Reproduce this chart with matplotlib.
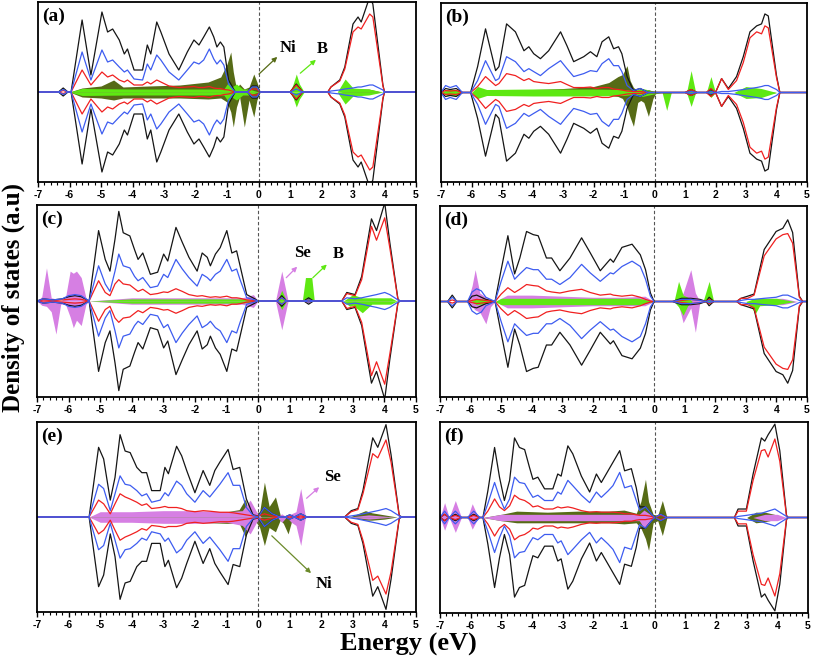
import matplotlib.pyplot as plt
import numpy as np
from matplotlib.ticker import AutoMinorLocator

# ---- panel (a) : total (black), blue, red spin-up lines (spin-down is mirrored)
a_E = [-7.0, -6.35, -6.2, -6.05, -5.95, -5.6, -5.32, -4.97, -4.79, -4.63, -4.42, -4.26, -4.16, -3.95, -3.68,
       -3.53, -3.42, -3.23, -3.1, -2.84, -2.53, -2.26, -2.05, -1.89, -1.74, -1.56, -1.42, -1.32, -1.21, -1.1,
       -0.95, -0.74, -0.35, -0.2, -0.05, 0.05, 1.0, 1.2, 1.4, 2.2, 2.3, 2.58, 2.74, 3.0, 3.16, 3.26, 3.53,
       3.63, 3.95, 4.0, 5.0]
a_tot = [0, 0, 0.4, 0, 0, 7.2, 1.7, 8.0, 6.0, 6.3, 5.2, 3.8, 4.3, 2.2, 2.2, 4.7, 3.8, 7.0, 6.0, 3.8, 2.2,
         4.0, 5.2, 4.7, 5.5, 6.5, 5.5, 4.5, 5.0, 4.5, 1.2, 0, 0, 0.6, 0.6, 0, 0, 0.8, 0, 0, 0.5, 1.2, 2.5,
         6.8, 7.5, 7.0, 9.5, 8.8, 0.7, 0, 0]
a_blue = [0, 0, 0.25, 0, 0, 4.0, 1.2, 4.2, 3.0, 3.2, 2.5, 2.0, 2.2, 1.3, 1.2, 2.8, 2.2, 3.7, 3.2, 2.0, 1.2,
          2.2, 3.0, 2.8, 3.2, 4.3, 3.3, 2.8, 3.2, 2.7, 0.8, 0, 0, 0.5, 0.5, 0, 0, 0.3, 0, 0, 0.1, 0.2, 0.3,
          0.4, 0.5, 0.5, 0.7, 0.7, 0.2, 0, 0]
a_red = [0, 0, 0.15, 0, 0, 2.2, 0.7, 2.0, 1.5, 1.7, 1.2, 1.0, 1.2, 0.7, 0.7, 1.0, 0.8, 1.2, 1.0, 0.6, 0.45,
         0.5, 0.55, 0.45, 0.45, 0.55, 0.4, 0.35, 0.35, 0.25, 0.2, 0, 0, 0.3, 0.3, 0, 0, 0.7, 0, 0, 0.5, 1.1,
         2.3, 6.0, 6.5, 6.3, 7.8, 7.5, 0.6, 0, 0]
a_ni_E = [-6.0, -5.6, -5.0, -4.6, -4.3, -3.5, -2.5, -1.6, -1.2, -1.0, -0.88, -0.8, -0.7, -0.6, -0.45, -0.3,
          -0.15, -0.05, 0.05, 2.6, 3.0, 3.5, 3.9]
a_ni_up = [0, 0.4, 0.6, 1.2, 0.5, 0.6, 0.7, 1.0, 1.5, 2.8, 4.0, 2.0, 0.3, 0.8, 0.3, 0.5, 1.8, 1.0, 0, 0,
           0.3, 0.3, 0]
a_ni_dn = [0, -0.5, -0.6, -0.8, -0.6, -0.6, -0.6, -0.7, -0.6, -1.0, -2.0, -3.5, -1.5, -0.5, -3.5, -0.8,
           -2.5, -0.8, 0, 0, -0.3, -0.2, 0]
a_b_E = [-6.0, -5.6, -4.0, -2.0, -1.1, -0.95, -0.85, -0.7, -0.5, -0.3, 0.0, 1.0, 1.1, 1.2, 1.3, 1.45, 2.5,
         2.75, 3.0, 3.5, 3.95]
a_b_up = [0, 0.35, 0.3, 0.3, 0.3, 1.0, 0.5, 0.8, 0.3, 0.3, 0, 0, 0.8, 1.8, 0.8, 0, 0, 1.3, 0.4, 0.3, 0]
a_b_dn = [0, -0.35, -0.3, -0.3, -0.3, -1.0, -0.5, -0.8, -0.3, -0.3, 0, 0, -0.6, -1.5, -0.7, 0, 0, -1.2,
          -0.4, -0.3, 0]

# ---- panel (b)
b_E = [-7.0, -6.85, -6.7, -6.5, -6.3, -6.03, -5.8, -5.54, -5.21, -5.1, -4.85, -4.56, -4.28, -4.12, -3.96,
       -3.74, -3.47, -3.08, -2.87, -2.65, -2.32, -2.1, -1.89, -1.72, -1.5, -1.34, -1.18, -1.07, -0.9, -0.69,
       -0.47, -0.2, 1.0, 1.2, 1.4, 1.7, 1.85, 2.0, 2.2, 2.42, 2.69, 2.91, 3.13, 3.35, 3.51, 3.62, 3.73, 4.0,
       4.11, 5.0]
b_tot = [0, 0.4, 0.3, 0.4, 0, 0, 2.6, 6.4, 2.2, 2.6, 6.9, 6.1, 4.2, 4.6, 3.9, 3.4, 4.2, 6.1, 4.7, 3.1, 3.6,
         4.1, 3.6, 5.1, 5.6, 4.4, 4.6, 3.9, 1.6, 0.2, 0.4, 0, 0, 0.3, 0, 0, 0.3, 0, 1.4, 0.4, 1.6, 3.6, 6.1,
         6.7, 6.9, 7.9, 7.7, 1.7, 0, 0]
b_blue = [0, 0.7, 0.5, 0.7, 0, 0, 1.2, 3.2, 1.2, 1.4, 3.6, 3.1, 2.1, 2.4, 2.1, 1.7, 2.4, 3.2, 2.4, 1.6, 1.9,
          2.2, 2.1, 2.9, 3.4, 2.7, 2.7, 2.1, 0.7, 0.2, 0.4, 0, 0, 0.1, 0, 0, 0.1, 0, 0.1, 0.1, 0.2, 0.3, 0.4,
          0.5, 0.6, 0.7, 0.7, 0.3, 0, 0]
b_red = [0, 0.2, 0.15, 0.2, 0, 0, 0.6, 1.6, 0.7, 0.9, 1.9, 1.7, 1.2, 1.4, 1.1, 1.0, 0.9, 1.1, 0.8, 0.5, 0.5,
         0.55, 0.4, 0.5, 0.5, 0.35, 0.3, 0.25, 0.15, 0.1, 0.1, 0, 0, 0.3, 0, 0, 0.4, 0, 1.4, 0.3, 1.2, 3.0,
         5.5, 6.1, 5.9, 6.7, 6.5, 1.5, 0, 0]
b_ni_E = [-7.0, -6.3, -6.0, -5.0, -4.0, -3.0, -2.0, -1.5, -1.2, -1.05, -0.9, -0.8, -0.69, -0.55, -0.45,
          -0.35, -0.2, -0.05, 0.05, 2.8, 3.5, 4.0]
b_ni_up = [0, 0, 0, 0.2, 0.3, 0.4, 0.6, 1.0, 1.6, 1.8, 2.7, 1.2, 0.5, 0.2, 0.4, 0.2, 0.3, 0.1, 0, 0, 0.2, 0]
b_ni_dn = [0, 0, 0, -0.2, -0.3, -0.3, -0.3, -0.3, -0.4, -0.6, -1.5, -2.5, -3.4, -1.0, -0.8, -1.0, -2.4,
           -0.6, 0, 0, -0.2, 0]
b_b_E = [-7.0, -6.8, -6.5, -6.3, -6.0, -5.8, -5.5, -4.0, -2.0, -1.0, -0.7, -0.4, -0.1, 0.25, 0.4, 0.55,
         1.05, 1.2, 1.35, 1.7, 1.85, 2.0, 2.6, 3.0, 3.5, 4.0]
b_b_up = [0, 0.3, 0.3, 0, 0, 0.6, 0.3, 0.35, 0.35, 0.3, 0.2, 0.4, 0.2, 0, 0.1, 0, 0, 2.2, 0, 0, 1.6, 0, 0,
          0.6, 0.4, 0]
b_b_dn = [0, -0.3, -0.3, 0, 0, -0.6, -0.3, -0.35, -0.35, -0.3, -0.2, -0.4, -0.2, 0, -1.8, 0, 0, -1.4, 0, 0,
          -0.5, 0, 0, -0.6, -0.5, 0]

# ---- panel (c)
c_E = [-7.0, -6.8, -6.5, -6.2, -6.0, -5.8, -5.6, -5.35, -5.05, -4.84, -4.69, -4.53, -4.41, -4.27, -4.06,
       -3.91, -3.8, -3.65, -3.41, -3.18, -2.99, -2.86, -2.6, -2.4, -2.19, -1.93, -1.77, -1.61, -1.51, -1.35,
       -1.2, -0.99, -0.83, -0.68, -0.57, -0.36, -0.1, 0.0, 0.6, 0.75, 0.9, 1.45, 1.6, 1.75, 2.65, 2.81,
       3.07, 3.28, 3.59, 3.75, 4.01, 4.17, 4.43, 4.5, 5.0]
c_tot = [0, 0.2, 0.1, 0.2, 0.4, 0.5, 0.4, 0, 6.6, 3.9, 2.8, 5.8, 8.4, 6.4, 6.1, 4.8, 3.9, 4.5, 2.5, 2.7,
         4.4, 3.75, 6.9, 5.5, 4.1, 2.8, 4.5, 4.1, 3.3, 4.4, 5.0, 6.6, 4.5, 4.7, 3.3, 0.6, 0.2, 0, 0, 0.5, 0,
         0, 0.3, 0, 0, 0.8, 0.6, 2.3, 7.7, 6.6, 9.2, 5.5, 0.15, 0, 0]
c_blue = [0, 0.2, 0.1, 0.2, 0.5, 0.6, 0.5, 0, 3.3, 1.6, 0.9, 2.8, 4.4, 3.3, 3.1, 2.3, 1.9, 2.2, 1.25, 1.4,
          2.5, 2.2, 3.9, 3.0, 2.2, 1.4, 2.5, 2.2, 1.9, 2.5, 2.8, 3.9, 2.8, 3.0, 2.0, 0.3, 0.1, 0, 0, 0.3, 0,
          0, 0.1, 0, 0, 0.3, 0.2, 0.3, 0.5, 0.6, 0.8, 0.6, 0.1, 0, 0]
c_red = [0, 0.1, 0.05, 0.1, 0.15, 0.2, 0.15, 0, 1.9, 0.8, 0.5, 1.6, 2.0, 1.6, 1.5, 1.15, 0.9, 1.1, 0.6, 0.7,
         0.85, 0.8, 1.15, 0.9, 0.6, 0.45, 0.5, 0.4, 0.35, 0.4, 0.35, 0.45, 0.3, 0.3, 0.25, 0.1, 0.05, 0, 0,
         0.3, 0, 0, 0.1, 0, 0, 0.7, 0.5, 2.0, 7.0, 5.7, 7.8, 5.0, 0.1, 0, 0]
c_se_E = [-7.0, -6.85, -6.7, -6.55, -6.4, -6.25, -6.1, -5.95, -5.85, -5.75, -5.6, -5.45, -5.35, -4.0, -2.0,
          -0.5, -0.15, 0.0, 0.55, 0.75, 0.95, 2.7, 3.5, 4.3]
c_se_up = [0, 0.4, 3.1, 0.3, 0.2, 0, 0.3, 2.8, 2.6, 2.8, 2.2, 0.3, 0, 0.3, 0.3, 0.3, 0.6, 0, 0, 2.8, 0, 0,
           0.2, 0]
c_se_dn = [0, -0.4, -0.5, -1.0, -3.1, -0.3, -0.3, -1.5, -2.5, -1.8, -2.3, -0.3, 0, -0.3, -0.3, -0.3, -0.6,
           0, 0, -2.7, 0, 0, -0.2, 0]
c_b_E = [-5.35, -4.0, -2.0, -0.5, 0.0, 0.6, 0.75, 0.9, 1.4, 1.5, 1.7, 1.78, 2.7, 2.9, 3.0, 3.3, 3.6, 4.2, 4.4]
c_b_up = [0, 0.2, 0.2, 0.2, 0, 0, 1.0, 0, 0, 2.2, 2.2, 0, 0, 0.4, 0.6, 0.3, 0.3, 0.3, 0]
c_b_dn = [0, -0.2, -0.2, -0.2, 0, 0, -0.8, 0, 0, -0.05, -0.05, 0, 0, -0.5, -0.4, -1.1, -0.3, -0.3, 0]

# ---- panel (d)
d_E = [-7.0, -6.75, -6.6, -6.45, -6.1, -5.95, -5.8, -5.65, -5.5, -5.2, -5.0, -4.78, -4.56, -4.39, -4.17,
       -3.95, -3.79, -3.52, -3.35, -3.08, -2.75, -2.37, -2.09, -1.76, -1.43, -1.33, -1.05, -0.72, -0.45,
       -0.28, -0.12, 0.0, 0.6, 0.9, 1.2, 1.5, 1.7, 1.8, 1.95, 2.7, 2.84, 3.06, 3.27, 3.6, 3.99, 4.21, 4.37,
       4.53, 4.75, 4.86, 5.0]
d_tot = [0, 0, 0.6, 0, 0, 0.5, 0.6, 0.4, 0.2, 0, 3.0, 6.2, 2.6, 4.1, 6.6, 6.3, 6.2, 4.1, 4.1, 2.9, 4.1, 6.0,
         4.6, 2.9, 4.0, 3.7, 5.1, 5.4, 4.4, 3.0, 0.8, 0, 0, 0.3, 0.3, 0.2, 0, 0.4, 0, 0, 0.3, 0.5, 0.7, 4.9,
         6.6, 6.9, 7.7, 6.5, 0.5, 0, 0]
d_blue = [0, 0, 0.4, 0, 0, 0.9, 1.2, 1.0, 0.4, 0, 1.9, 3.8, 2.1, 2.6, 3.2, 3.0, 3.0, 2.1, 2.1, 1.6, 2.25,
          3.5, 2.7, 1.9, 2.7, 2.6, 3.3, 3.8, 3.3, 2.1, 0.5, 0, 0, 0.2, 0.2, 0.1, 0, 0.1, 0, 0, 0.1, 0.2, 0.2,
          0.3, 0.4, 0.6, 0.6, 0.4, 0.1, 0, 0]
d_red = [0, 0, 0.15, 0, 0, 0.1, 0.2, 0.15, 0.1, 0, 0.7, 1.3, 0.85, 1.15, 1.6, 1.5, 1.45, 1.0, 0.9, 0.8, 1.0,
         1.15, 0.85, 0.6, 0.7, 0.6, 0.5, 0.6, 0.4, 0.2, 0.05, 0, 0, 0.1, 0.2, 0.1, 0, 0.2, 0, 0, 0.3, 0.3,
         0.6, 4.3, 5.9, 6.3, 6.4, 5.5, 0.4, 0, 0]
d_se_E = [-6.1, -5.95, -5.85, -5.7, -5.5, -5.35, -5.2, -4.8, -4.0, -3.0, -2.0, -1.0, -0.3, 0.0, 0.6, 0.8,
          0.95, 1.2, 1.35, 1.5, 3.2, 3.6, 4.2, 4.7]
d_se_up = [0, 1.5, 3.0, 0.8, 0.4, 0.2, 0, 0.6, 0.6, 0.5, 0.4, 0.4, 0.5, 0, 0, 0.3, 0.8, 3.0, 0.8, 0, 0, 0.3,
           0.3, 0]
d_se_dn = [0, -0.5, -0.8, -1.0, -2.1, -0.5, 0, -0.6, -0.6, -0.5, -0.4, -0.4, -0.4, 0, 0, -0.3, -2.0, -0.6,
           -2.9, 0, 0, -0.3, -0.3, 0]
d_b_E = [-6.0, -5.8, -5.5, -5.2, -5.0, -4.0, -2.0, -0.5, 0.0, 0.65, 0.8, 0.95, 1.1, 1.25, 1.6, 1.8, 1.95,
         3.0, 3.2, 3.3, 3.45, 4.0, 4.6]
d_b_up = [0, 0.3, 0.2, 0, 0.3, 0.3, 0.3, 0.3, 0, 0, 1.9, 0.6, 0.4, 0, 0, 1.9, 0, 0, 0.2, 0.3, 0.3, 0.3, 0]
d_b_dn = [0, -0.3, -0.2, 0, -0.3, -0.3, -0.3, -0.3, 0, 0, -0.5, -1.3, -0.4, 0, 0, -0.2, 0, 0, -0.6, -1.2,
          -0.4, -0.3, 0]

# ---- panel (e)
e_E = [-7.0, -5.35, -5.05, -4.89, -4.68, -4.53, -4.37, -4.21, -4.05, -3.84, -3.68, -3.53, -3.37, -3.1, -2.95,
       -2.84, -2.58, -2.42, -2.26, -2.0, -1.74, -1.53, -1.37, -1.21, -0.95, -0.79, -0.58, -0.37, -0.16, 0.0,
       0.2, 0.45, 0.7, 0.85, 1.0, 1.15, 1.35, 1.55, 2.74, 2.95, 3.16, 3.32, 3.63, 3.79, 4.05, 4.21, 4.47,
       4.55, 5.0]
e_tot = [0, 0, 6.6, 5.5, 1.6, 3.75, 7.8, 6.25, 6.1, 4.7, 4.2, 4.2, 2.5, 2.5, 4.7, 4.1, 6.7, 5.8, 4.4, 2.3,
         4.4, 3.0, 4.4, 5.2, 6.4, 4.5, 4.7, 1.7, 0.2, 0.1, 0.9, 0.3, 0, 0, 0.2, 0, 0.3, 0, 0, 0.6, 0.8, 2.5,
         7.5, 6.6, 8.75, 5.9, 0.15, 0, 0]
e_blue = [0, 0, 3.1, 2.7, 0.6, 2.2, 3.9, 3.1, 3.0, 2.5, 2.0, 2.2, 1.4, 1.6, 2.3, 2.0, 3.4, 3.0, 2.2, 1.4,
          2.5, 1.9, 2.5, 3.1, 4.2, 3.0, 3.0, 0.9, 0.15, 0, 0.9, 0.3, 0, 0, 0.2, 0, 0.3, 0, 0, 0.1, 0.2, 0.3,
          0.5, 0.6, 0.8, 0.6, 0.1, 0, 0]
e_red = [0, 0, 1.6, 1.25, 0.3, 1.25, 2.2, 1.9, 1.7, 1.4, 1.1, 1.25, 0.8, 0.9, 1.0, 0.9, 0.9, 0.8, 0.6, 0.5,
         0.6, 0.55, 0.5, 0.45, 0.45, 0.4, 0.3, 0.2, 0.1, 0.1, 0.3, 0.1, 0, 0, 0.1, 0, 0.1, 0, 0, 0.5, 0.7,
         2.2, 6.0, 5.6, 7.3, 5.2, 0.1, 0, 0]
e_ni_E = [-5.35, -5.0, -4.0, -3.0, -2.0, -1.0, -0.6, -0.4, -0.3, -0.1, 0.05, 0.2, 0.35, 0.55, 0.7, 0.8,
          0.95, 1.1, 2.9, 3.4, 3.6, 4.0, 4.4]
e_ni_up = [0, 0.3, 0.4, 0.4, 0.4, 0.5, 0.7, 1.7, 0.5, 0.3, 0.5, 3.3, 1.0, 1.9, 0.2, 0.1, 0, 0, 0, 0.6, 0.4,
           0.2, 0]
e_ni_dn = [0, -0.3, -0.4, -0.5, -0.5, -0.6, -0.6, -1.9, -0.5, -0.3, -1.0, -2.7, -1.0, -1.4, -0.3, -0.6,
           -1.6, 0, 0, -0.3, -0.3, -0.2, 0]
e_se_E = [-5.35, -5.0, -4.0, -3.0, -2.0, -1.0, -0.5, -0.25, -0.05, 0.1, 0.6, 0.75, 0.9, 1.05, 1.2, 1.35,
          1.5, 2.9, 3.5, 4.3]
e_se_up = [0, 0.5, 0.5, 0.6, 0.6, 0.5, 0.6, 1.6, 0.5, 0, 0, 0.3, 0, 0.3, 0.5, 2.7, 0, 0, 0.2, 0]
e_se_dn = [0, -0.5, -0.5, -0.6, -0.6, -0.5, -0.8, -1.6, -0.5, 0, 0, -0.5, 0, -0.5, -0.8, -2.7, 0, 0, -0.2, 0]

# ---- panel (f)
f_E = [-7.0, -6.85, -6.7, -6.5, -6.3, -6.1, -5.9, -5.7, -5.6, -5.44, -5.22, -5.06, -4.9, -4.73, -4.57,
       -4.41, -4.24, -4.08, -3.97, -3.81, -3.59, -3.32, -3.16, -3.05, -2.83, -2.67, -2.39, -2.12, -1.9,
       -1.74, -1.52, -1.36, -1.14, -0.98, -0.76, -0.6, -0.49, -0.3, -0.1, 0.0, 0.2, 0.4, 2.6, 2.72, 2.99,
       3.21, 3.48, 3.59, 3.7, 3.92, 4.08, 4.3, 4.35, 5.0]
f_tot = [0, 0.3, 0, 0.3, 0, 0, 0.3, 0, 0, 2.5, 6.6, 3.8, 1.6, 3.5, 7.5, 6.6, 6.4, 4.7, 3.6, 3.8, 2.7, 2.7,
         4.1, 3.9, 6.75, 6.0, 3.9, 2.4, 4.1, 3.3, 4.4, 5.2, 6.3, 4.4, 4.6, 2.8, 1.0, 1.0, 0.3, 0, 0.3, 0, 0,
         0.8, 0.8, 4.1, 7.5, 7.2, 7.8, 8.8, 6.3, 0.2, 0, 0]
f_blue = [0, 0.6, 0, 0.6, 0, 0, 0.6, 0, 0, 1.3, 3.3, 1.9, 0.8, 1.75, 3.8, 3.3, 3.2, 2.4, 1.9, 2.1, 1.6, 1.6,
          2.4, 2.2, 3.5, 3.0, 2.1, 1.4, 2.4, 1.9, 2.5, 3.0, 4.25, 2.8, 3.0, 1.6, 0.65, 1.0, 0.3, 0, 0.3, 0,
          0, 0.1, 0.2, 0.3, 0.4, 0.5, 0.6, 0.8, 0.5, 0.1, 0, 0]
f_red = [0, 0.3, 0, 0.2, 0, 0, 0.2, 0, 0, 0.6, 1.75, 1.0, 0.65, 1.1, 2.1, 1.75, 1.6, 1.3, 1.0, 1.1, 0.8,
         0.8, 1.0, 0.9, 1.0, 0.9, 0.65, 0.5, 0.55, 0.5, 0.5, 0.5, 0.45, 0.35, 0.35, 0.25, 0.2, 0.2, 0.1, 0,
         0.2, 0, 0, 0.6, 0.6, 3.5, 6.3, 6.4, 5.7, 7.4, 5.3, 0.1, 0, 0]
f_ni_E = [-5.6, -5.0, -4.5, -3.5, -2.5, -1.5, -1.0, -0.6, -0.45, -0.3, -0.2, -0.05, 0.1, 0.25, 0.4, 3.0,
          3.3, 3.6, 3.9, 4.2]
f_ni_up = [0, 0.3, 0.6, 0.5, 0.6, 0.6, 0.7, 0.4, 1.5, 3.6, 1.5, 0.3, 0.2, 1.6, 0, 0, 0.5, 0.5, 0.3, 0]
f_ni_dn = [0, -0.3, -0.5, -0.5, -0.5, -0.5, -0.6, -0.5, -1.0, -2.0, -3.1, -0.5, -0.3, -1.7, 0, 0, -0.5,
           -0.4, -0.2, 0]
f_se_E = [-7.0, -6.85, -6.7, -6.5, -6.3, -6.1, -5.95, -5.75, -5.6, -5.0, -4.0, -3.0, -2.0, -1.0, -0.5,
          -0.35, -0.15, 0.0, 3.2, 3.6, 4.0, 4.3]
f_se_up = [0, 1.4, 0, 1.6, 0, 0, 1.3, 0, 0, 0.3, 0.3, 0.3, 0.3, 0.3, 0.3, 0.7, 0.3, 0, 0, 0.3, 0.3, 0]
f_se_dn = [0, -1.2, 0, -1.4, 0, 0, -1.1, 0, 0, -0.3, -0.3, -0.3, -0.3, -0.3, -0.3, -1.0, -0.3, 0, 0,
           -0.3, -0.3, 0]

x_ticks = list(range(-7, 6))

BLACK = '#151515'
BLUE = '#3d5cf0'
RED = '#f02020'
NI = '#566b16'
B_COL = '#5ee812'
SE = '#d67fe3'
SERIF = 'Liberation Serif'
SANS = 'Liberation Sans'

W, H = 813, 659
fig = plt.figure(figsize=(W / 100, H / 100), dpi=100)


def rect(x0, y0, x1, y1):
    return [x0 / W, 1 - y1 / H, (x1 - x0) / W, (y1 - y0) / H]


def draw_panel(box, label, E, tot, blue, red, fills):
    ax = fig.add_axes(rect(*box))
    for fe, up, dn, col in fills:
        ax.fill_between(fe, up, 0, color=col, lw=0)
        ax.fill_between(fe, dn, 0, color=col, lw=0)
    for vals, col in ((tot, BLACK), (red, RED), (blue, BLUE)):
        v = np.array(vals)
        ax.plot(E, v, color=col, lw=0.9)
        ax.plot(E, -v, color=col, lw=0.9)
    ax.axvline(0, color='#555555', lw=0.8, ls=(0, (3, 2)))
    ax.set_xlim(-7, 5)
    ax.set_ylim(-9, 9)
    ax.set_yticks([])
    ax.set_xticks(x_ticks)
    ax.set_xticklabels([str(t) for t in x_ticks], fontsize=7.5, fontweight='bold', family=SANS)
    ax.xaxis.set_minor_locator(AutoMinorLocator(5))
    ax.tick_params(axis='x', which='major', direction='out', length=3.5, width=1, pad=2)
    ax.tick_params(axis='x', which='minor', direction='out', length=2, width=0.8)
    for s in ax.spines.values():
        s.set_linewidth(1.3)
    ax.text(0.012, 0.97, label, transform=ax.transAxes, ha='left', va='top',
            fontsize=14, fontweight='bold', family=SERIF)
    return ax


def note(ax, txt, xy, xytext, col, tx, ty):
    ax.annotate('', xy=xytext, xytext=xy,
                arrowprops=dict(arrowstyle='-|>', color=col, lw=0.9, mutation_scale=7))
    ax.text(tx, ty, txt, ha='center', va='center', fontsize=12, fontweight='bold', family=SERIF)


ax_a = draw_panel((38, 2, 416, 182), '(a)', a_E, a_tot, a_blue, a_red,
                  [(a_ni_E, a_ni_up, a_ni_dn, NI), (a_b_E, a_b_up, a_b_dn, B_COL)])
note(ax_a, 'Ni', (-0.05, 1.6), (0.66, 3.7), NI, 0.92, 4.4)
note(ax_a, 'B', (1.26, 1.7), (1.89, 3.4), B_COL, 2.02, 4.3)

draw_panel((441, 3, 807, 182), '(b)', b_E, b_tot, b_blue, b_red,
           [(b_ni_E, b_ni_up, b_ni_dn, NI), (b_b_E, b_b_up, b_b_dn, B_COL)])

ax_c = draw_panel((37, 205, 416, 397), '(c)', c_E, c_tot, c_blue, c_red,
                  [(c_se_E, c_se_up, c_se_dn, SE), (c_b_E, c_b_up, c_b_dn, B_COL)])
note(ax_c, 'Se', (0.83, 2.0), (1.3, 3.4), SE, 1.42, 4.5)
note(ax_c, 'B', (1.67, 2.0), (2.24, 3.6), B_COL, 2.53, 4.4)

draw_panel((440, 206, 807, 397), '(d)', d_E, d_tot, d_blue, d_red,
           [(d_se_E, d_se_up, d_se_dn, SE), (d_b_E, d_b_up, d_b_dn, B_COL)])

ax_e = draw_panel((37, 422, 416, 612), '(e)', e_E, e_tot, e_blue, e_red,
                  [(e_ni_E, e_ni_up, e_ni_dn, NI), (e_se_E, e_se_up, e_se_dn, SE)])
note(ax_e, 'Se', (1.47, 1.6), (2.0, 3.0), SE, 2.37, 3.8)
note(ax_e, 'Ni', (0.37, -1.6), (1.74, -5.5), '#6b8a2a', 2.1, -6.3)

draw_panel((440, 422, 808, 613), '(f)', f_E, f_tot, f_blue, f_red,
           [(f_ni_E, f_ni_up, f_ni_dn, NI), (f_se_E, f_se_up, f_se_dn, SE)])

fig.text(408 / W, 1 - 644 / H, 'Energy (eV)', ha='center', va='center',
         fontsize=19, fontweight='bold', family=SERIF)
fig.text(13 / W, 1 - 298 / H, 'Density of states (a.u)', ha='center', va='center', rotation=90,
         fontsize=18, fontweight='bold', family=SERIF)

fig.savefig('out.png', dpi=100)
